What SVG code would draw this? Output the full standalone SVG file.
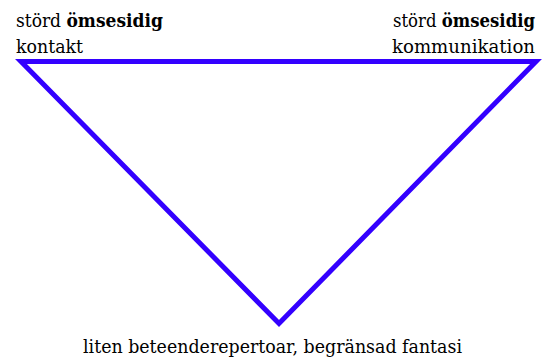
<svg xmlns="http://www.w3.org/2000/svg" width="542" height="358" viewBox="0 0 542 358">
<style>
text{font-family:"DejaVu Serif","Times New Roman",serif;font-size:18px;fill:#000}
.b{font-weight:bold}
.tri{fill:none;stroke:#3300ff;stroke-width:5;stroke-linejoin:miter}
</style>
<rect width="542" height="358" fill="#fff"/>
<g id="connectors">
<polygon class="tri" points="21,61.5 536,61.5 279,323.5"/>
</g>
<g id="node-left">
<text x="16" y="27" textLength="147" lengthAdjust="spacingAndGlyphs">störd <tspan class="b">ömsesidig</tspan></text>
<text x="16" y="53" textLength="67" lengthAdjust="spacingAndGlyphs">kontakt</text>
</g>
<g id="node-right">
<text x="393" y="27" textLength="142" lengthAdjust="spacingAndGlyphs">störd <tspan class="b">ömsesidig</tspan></text>
<text x="392" y="53" textLength="143" lengthAdjust="spacingAndGlyphs">kommunikation</text>
</g>
<g id="node-bottom">
<text x="83" y="353" textLength="379" lengthAdjust="spacingAndGlyphs">liten beteenderepertoar, begränsad fantasi</text>
</g>
</svg>
